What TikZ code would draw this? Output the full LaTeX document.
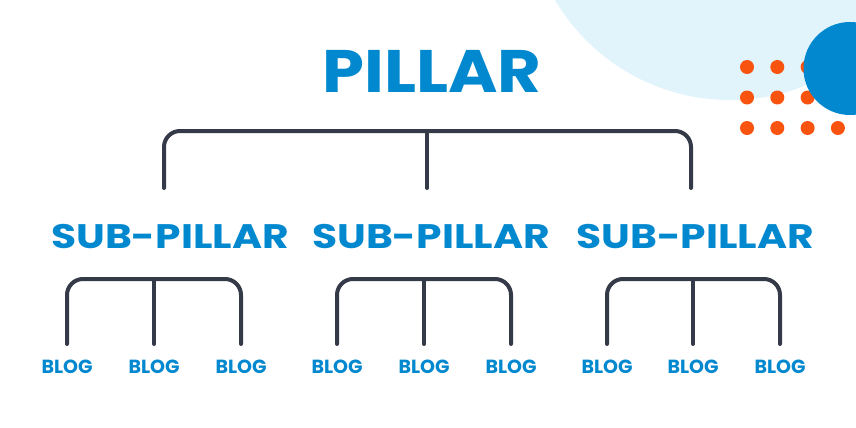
\documentclass[tikz,border=0pt]{standalone}
\usepackage{fontspec}
\setmainfont{Poppins}
\newfontfamily\pillarfont{Poppins}[FakeStretch=1.12]
\newfontfamily\subfont{Poppins}[FakeStretch=1.2]
\usepackage{xcolor}
\usetikzlibrary{positioning}
\definecolor{brandblue}{HTML}{0288CF}
\definecolor{lightsky}{HTML}{E1F4FC}
\definecolor{dotorange}{HTML}{F9540F}
\definecolor{linegray}{HTML}{343A48}

\begin{document}
\begin{tikzpicture}[x=1pt, y=-1pt,
title/.style={text=brandblue, font=\pillarfont\fontsize{60}{60}\selectfont\bfseries, inner sep=0pt},
sub/.style={text=brandblue, font=\subfont\fontsize{34}{34}\selectfont\bfseries, inner sep=0pt},
blog/.style={text=brandblue, font=\fontsize{19}{19}\selectfont\bfseries, inner sep=0pt},
brk/.style={draw=linegray, line width=4pt, rounded corners=16pt, line cap=round},
dot/.style={circle, fill=dotorange, minimum size=14pt, inner sep=0pt}
]
\clip (0,0) rectangle (856,428);
\fill[white] (0,0) rectangle (856,428);
% decoration top right
\fill[lightsky] (730,-103) circle (203);
\foreach \row in {1,2,3}
  \foreach \col in {1,...,4}
    \node[dot] (d\row\col) at ({747+30.3*(\col-1)},{67+30.5*(\row-1)}) {};
\fill[brandblue] (850,68.5) circle (46.5);

% texts
\node[title] (pillar) at (432,71) {PILLAR};
\node[sub] (sp1) at (170,237) {SUB-PILLAR};
\node[sub] (sp2) at (431,237) {SUB-PILLAR};
\node[sub] (sp3) at (695,237) {SUB-PILLAR};
\node[blog] (b11) at (67,367) {BLOG};
\node[blog] (b12) at (154,367) {BLOG};
\node[blog] (b13) at (241,367) {BLOG};
\node[blog] (b21) at (337,367) {BLOG};
\node[blog] (b22) at (424,367) {BLOG};
\node[blog] (b23) at (511,367) {BLOG};
\node[blog] (b31) at (607,367) {BLOG};
\node[blog] (b32) at (693,367) {BLOG};
\node[blog] (b33) at (780,367) {BLOG};

% connector ends
\coordinate (hub) at (427,131);
\coordinate (sp1top) at (164,188);
\coordinate (sp2top) at (427,188);
\coordinate (sp3top) at (691,188);
\coordinate (hub1) at (154,279);
\coordinate (hub2) at (424,279);
\coordinate (hub3) at (693,279);
\coordinate (b11top) at (67,344);
\coordinate (b12top) at (154,344);
\coordinate (b13top) at (241,344);
\coordinate (b21top) at (337,344);
\coordinate (b22top) at (424,344);
\coordinate (b23top) at (511,344);
\coordinate (b31top) at (607,344);
\coordinate (b32top) at (693,344);
\coordinate (b33top) at (780,344);

\draw[brk] (sp1top) |- (hub) -| (sp3top);
\draw[brk] (hub) -- (sp2top);
\draw[brk] (b11top) |- (hub1) -| (b13top);
\draw[brk] (hub1) -- (b12top);
\draw[brk] (b21top) |- (hub2) -| (b23top);
\draw[brk] (hub2) -- (b22top);
\draw[brk] (b31top) |- (hub3) -| (b33top);
\draw[brk] (hub3) -- (b32top);
\end{tikzpicture}
\end{document}
